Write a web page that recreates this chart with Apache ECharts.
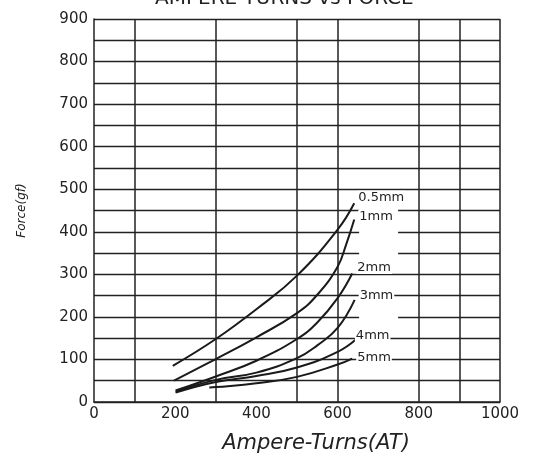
<!DOCTYPE html>
<html>
<head>
<meta charset="utf-8">
<script src="https://cdn.jsdelivr.net/npm/echarts@6/dist/echarts.min.js"></script>
<style>html,body{margin:0;padding:0;background:#fff}#c{width:539px;height:459px}</style>
</head>
<body>
<div id="c"></div>
<script>
// Data (Ampere-Turns, Force gf)
var seriesNames = ['0.5mm', '1mm', '2mm', '3mm', '4mm', '5mm'];
var s05mm = [[194,85],[300,148],[400,218],[500,297],[600,405],[641,467]];
var s1mm  = [[197,50],[300,101],[400,152],[500,209],[550,252],[600,318],[621,370],[641,429]];
var s2mm  = [[201,27],[300,60],[400,97],[500,148],[550,187],[600,244],[636,302]];
var s3mm  = [[201,24],[300,52],[400,69],[500,103],[550,133],[600,174],[642,240]];
var s4mm  = [[201,22],[300,47],[400,61],[500,81],[600,118],[645,147]];
var s5mm  = [[284,34],[300,35],[400,44],[500,59],[600,88],[636,102]];
var verticalLines = [100, 300, 500, 600, 800, 900, 1000];
var xTicks = [0, 200, 400, 600, 800, 1000];
var yTicks = [0, 100, 200, 300, 400, 500, 600, 700, 800, 900];

var allSeries = [s05mm, s1mm, s2mm, s3mm, s4mm, s5mm];
var labelOffsets = [[-2,-6],[-1,-3],[-1,-6],[-1,-4],[-6,-4],[-1,-1]];

var chart = echarts.init(document.getElementById('c'), null, {renderer: 'canvas'});
var lineSeries = allSeries.map(function (d, i) {
  return {
    name: seriesNames[i],
    type: 'line',
    data: d,
    smooth: 0.45,
    showSymbol: false,
    symbol: 'none',
    z: 5,
    lineStyle: {color: '#1a1a1a', width: 2},
    endLabel: {
      show: true,
      formatter: seriesNames[i],
      offset: labelOffsets[i],
      distance: 5,
      color: '#222',
      fontFamily: 'DejaVu Sans',
      fontSize: 13,
      backgroundColor: '#fff',
      padding: [0, 1, 0, 1]
    }
  };
});

lineSeries.push({
  type: 'line',
  data: [],
  silent: true,
  z: 3,
  markLine: {
    silent: true,
    symbol: ['none', 'none'],
    label: {show: false},
    lineStyle: {color: '#222', type: 'solid', width: 1.5},
    data: verticalLines.map(function (v) { return {xAxis: v}; })
  },
  markArea: {
    silent: true,
    itemStyle: {color: '#fff'},
    data: [
      [{coord: [653, 335]}, {coord: [749, 462]}],
      [{coord: [653, 192]}, {coord: [749, 208]}]
    ]
  }
});

chart.setOption({
  animation: false,
  backgroundColor: '#fff',
  title: {
    text: 'AMPERE TURNS vs FORCE',
    left: 150,
    top: -16,
    textStyle: {fontFamily: 'DejaVu Sans', fontSize: 20, fontWeight: 'normal', color: '#222'}
  },
  grid: {left: 94, right: 39, top: 19, bottom: 53},
  xAxis: {
    type: 'value',
    min: 0, max: 1000, interval: 200,
    name: 'Ampere-Turns(AT)',
    nameLocation: 'middle',
    nameGap: 31,
    nameTextStyle: {fontFamily: 'DejaVu Sans', fontStyle: 'italic', fontSize: 21, color: '#222', padding: [0, 0, 0, 38]},
    axisLine: {show: true, lineStyle: {color: '#222', width: 1.5}},
    axisTick: {show: false},
    splitLine: {show: false},
    axisLabel: {
      fontFamily: 'DejaVu Sans', fontSize: 15, color: '#222', margin: 5,
      formatter: function (v) { return xTicks.indexOf(v) >= 0 ? String(v) : ''; }
    }
  },
  yAxis: {
    type: 'value',
    min: 0, max: 900, interval: 50,
    name: 'Force(gf)',
    nameLocation: 'middle',
    nameGap: 66,
    nameTextStyle: {fontFamily: 'DejaVu Sans', fontStyle: 'italic', fontSize: 12, color: '#222'},
    axisLine: {show: true, lineStyle: {color: '#222', width: 1.5}},
    axisTick: {show: false},
    splitLine: {show: true, lineStyle: {color: '#222', width: 1.3}},
    axisLabel: {
      fontFamily: 'DejaVu Sans', fontSize: 15, color: '#222', margin: 6,
      formatter: function (v) { return yTicks.indexOf(v) >= 0 ? String(v) : ''; }
    }
  },
  series: lineSeries
});
</script>
</body>
</html>
